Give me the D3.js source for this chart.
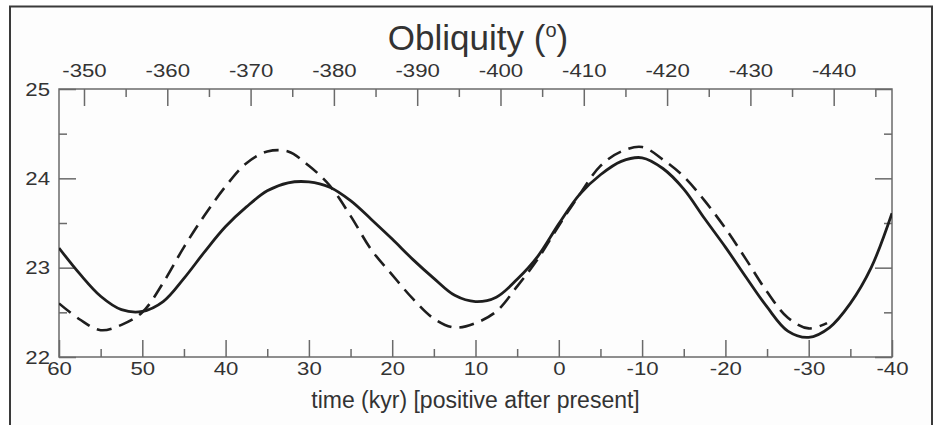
<!DOCTYPE html>
<html>
<head>
<meta charset="utf-8">
<script src="https://cdn.jsdelivr.net/npm/d3@7"></script>
<style>
  html, body { margin: 0; padding: 0; background: #ffffff; }
  svg { display: block; font-family: "Liberation Sans", Arial, Helvetica, sans-serif; }
</style>
</head>
<body>
<svg id="chart" width="938" height="425"></svg>
<script>
// ---- data ----
const timeKyr = [60, 57.5, 55, 52.5, 50, 47.5, 45, 42.5, 40, 37.5, 35, 32.5, 30, 27.5, 25, 22.5, 20, 17.5, 15, 12.5, 10, 7.5, 5, 2.5, 0, -2.5, -5, -7.5, -10, -12.5, -15, -17.5, -20, -22.5, -25, -27.5, -30, -32.5, -35, -37.5, -40];
const solidObliquity = [23.22, 22.93, 22.68, 22.53, 22.51, 22.62, 22.88, 23.18, 23.46, 23.68, 23.86, 23.95, 23.96, 23.90, 23.75, 23.54, 23.32, 23.09, 22.88, 22.69, 22.62, 22.67, 22.87, 23.13, 23.49, 23.82, 24.04, 24.19, 24.23, 24.11, 23.88, 23.55, 23.23, 22.89, 22.56, 22.29, 22.22, 22.33, 22.60, 23.00, 23.61];
const dashedTime = [60, 57.5, 55, 52.5, 50, 47.5, 45, 42.5, 40, 37.5, 35, 32.5, 30, 27.5, 25, 22.5, 20, 17.5, 15, 12.5, 10, 7.5, 5, 2.5, 0, -2.5, -5, -7.5, -10, -12.5, -15, -17.5, -20, -22.5, -25, -27.5, -30, -32.2];
const dashedObliquity = [22.60, 22.42, 22.30, 22.36, 22.50, 22.83, 23.23, 23.59, 23.91, 24.17, 24.30, 24.30, 24.14, 23.92, 23.58, 23.20, 22.92, 22.65, 22.43, 22.33, 22.38, 22.51, 22.79, 23.10, 23.47, 23.82, 24.14, 24.30, 24.35, 24.21, 24.02, 23.75, 23.44, 23.09, 22.73, 22.44, 22.32, 22.38];
const bottomTicks = [60, 50, 40, 30, 20, 10, 0, -10, -20, -30, -40];
const topTicks = [-350, -360, -370, -380, -390, -400, -410, -420, -430, -440];
const yTicks = [22, 23, 24, 25];
const titleText = "Obliquity (";
const titleSup = "o";
const xLabel = "time (kyr) [positive after present]";

// ---- layout ----
const svg = d3.select("#chart");
const L = 59, R = 892, T = 89, B = 357;
const x = d3.scaleLinear().domain([60, -40]).range([L, R]);
const xTop = d3.scaleLinear().domain([-347, -447]).range([L, R]);
const y = d3.scaleLinear().domain([22, 25]).range([B, T]);
const fmt = d => String(d);   // plain hyphen-minus as in the reference
const SX = 1.2;               // reference tick labels are horizontally wide

// outer frame
svg.append("rect").attr("x", 0).attr("y", 0).attr("width", 938).attr("height", 425).attr("fill", "#ffffff");
svg.append("rect").attr("x", 10).attr("y", 6.5).attr("width", 922).attr("height", 430)
  .attr("fill", "#fdfdfd").attr("stroke", "#3a3a3a").attr("stroke-width", 2);

const textColor = "#333";
const axisColor = "#6a6a6a";

function styleAxis(g) {
  g.select(".domain").remove();
  g.selectAll("line").attr("stroke", axisColor).attr("stroke-width", 1.5);
  g.selectAll("text").attr("fill", textColor).style("font-size", "18.5px")
    .style("font-family", "'Liberation Sans', Arial, sans-serif");
}

// minor ticks
const minorX = d3.range(55, -40, -10);
const minorY = [22.5, 23.5, 24.5];
svg.append("g").attr("transform", `translate(0,${B})`)
  .call(d3.axisBottom(x).tickValues(minorX).tickSize(-8).tickSizeOuter(0).tickFormat(""))
  .call(styleAxis);
svg.append("g").attr("transform", `translate(0,${T})`)
  .call(d3.axisTop(xTop).tickValues(d3.range(-355, -447, -10)).tickSize(-8).tickSizeOuter(0).tickFormat(""))
  .call(styleAxis);
svg.append("g").attr("transform", `translate(${L},0)`)
  .call(d3.axisLeft(y).tickValues(minorY).tickSize(-8).tickSizeOuter(0).tickFormat(""))
  .call(styleAxis);
svg.append("g").attr("transform", `translate(${R},0)`)
  .call(d3.axisRight(y).tickValues(minorY).tickSize(-8).tickSizeOuter(0).tickFormat(""))
  .call(styleAxis);

// major ticks
svg.append("g").attr("transform", `translate(0,${B})`)
  .call(d3.axisBottom(x).tickValues(bottomTicks).tickSize(-17).tickSizeOuter(0).tickFormat(fmt))
  .call(styleAxis)
  .selectAll("text").attr("y", 18).attr("dy", 0).attr("transform", `scale(${SX},1)`);
svg.append("g").attr("transform", `translate(0,${T})`)
  .call(d3.axisTop(xTop).tickValues(topTicks).tickSize(-17).tickSizeOuter(0).tickFormat(fmt))
  .call(styleAxis)
  .selectAll("text").attr("y", -12).attr("dy", 0).attr("transform", `scale(${SX},1)`);
svg.append("g").attr("transform", `translate(${L},0)`)
  .call(d3.axisLeft(y).tickValues(yTicks).tickSize(-17).tickSizeOuter(0).tickFormat(fmt))
  .call(styleAxis)
  .selectAll("text").attr("x", -9 / SX).attr("dy", "0.34em").attr("transform", `scale(${SX},1)`);
svg.append("g").attr("transform", `translate(${R},0)`)
  .call(d3.axisRight(y).tickValues(yTicks).tickSize(-17).tickSizeOuter(0).tickFormat(""))
  .call(styleAxis);

// plot border
svg.append("rect").attr("x", L).attr("y", T).attr("width", R - L).attr("height", B - T)
  .attr("fill", "none").attr("stroke", axisColor).attr("stroke-width", 1.5);

// curves
svg.append("clipPath").attr("id", "plotclip").append("rect")
  .attr("x", L).attr("y", T).attr("width", R - L).attr("height", B - T);

const line = d3.line().x(d => x(d[0])).y(d => y(d[1])).curve(d3.curveCatmullRom.alpha(0.5));
svg.append("path")
  .datum(dashedTime.map((t, i) => [t, dashedObliquity[i]]))
  .attr("d", line).attr("fill", "none").attr("stroke", "#1e1e1e")
  .attr("stroke-width", 2.6).attr("stroke-dasharray", "15,8").attr("clip-path", "url(#plotclip)");
svg.append("path")
  .datum(timeKyr.map((t, i) => [t, solidObliquity[i]]))
  .attr("d", line).attr("fill", "none").attr("stroke", "#1e1e1e")
  .attr("stroke-width", 2.8).attr("clip-path", "url(#plotclip)");

// title
const title = svg.append("text").attr("x", 478).attr("y", 50).attr("text-anchor", "middle")
  .attr("fill", textColor).style("font-size", "35px");
title.append("tspan").text(titleText);
title.append("tspan").attr("dy", -13).style("font-size", "20px").text(titleSup);
title.append("tspan").attr("dy", 13).text(")");

// x axis label
svg.append("text").attr("x", (L + R) / 2).attr("y", 408).attr("text-anchor", "middle")
  .attr("fill", textColor).style("font-size", "23px").text(xLabel);
</script>
</body>
</html>
